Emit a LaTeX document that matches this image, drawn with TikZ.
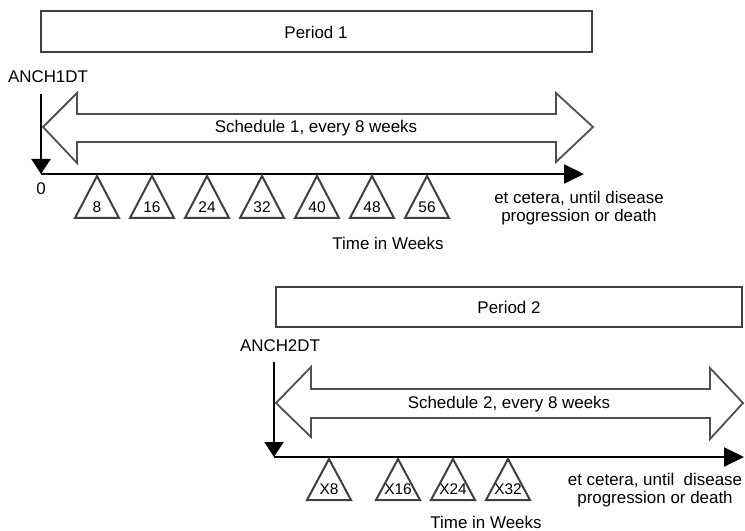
\documentclass[tikz,border=0pt]{standalone}
\usepackage{fontspec}
\setmainfont{Liberation Sans}
\usetikzlibrary{arrows.meta}
\definecolor{boxgray}{HTML}{404040}
\definecolor{arrgray}{HTML}{505050}
\tikzset{
  periodbox/.style={draw=boxgray, line width=2.4bp, fill=white},
  bigarrow/.style={draw=arrgray, line width=1.8bp, line join=miter, fill=white},
  timeline/.style={draw=black, line width=2bp, -{Triangle[length=20bp,width=19bp]}},
  anchorarrow/.style={draw=black, line width=2bp, -{Triangle[length=15bp,width=19bp]}},
  tri/.style={draw=boxgray, line width=2bp, line join=miter},
  lbl/.style={font=\fontsize{17}{18.5}\selectfont, inner sep=0pt},
  trilbl/.style={font=\fontsize{15.5}{17}\selectfont, inner sep=0pt},
}
\begin{document}
\begin{tikzpicture}[x=1bp,y=-1bp]
\useasboundingbox (0,0) rectangle (745,531);

% ---------- Section 1 ----------
\draw[periodbox] (41,11) rectangle (592,52);
\node[lbl] (p1) at (316,32) {Period 1};
\node[lbl] (anch1) at (48,77) {ANCH1DT};

\draw[bigarrow] (43,127) -- (77,93) -- (77,114) -- (556,114) -- (556,93) -- (593,127)
  -- (556,162) -- (556,142) -- (77,142) -- (77,163) -- cycle;
\node[lbl] (s1) at (316,128) {Schedule 1, every 8 weeks};

\coordinate (v1top) at (41,94);
\coordinate (v1bot) at (41,174);
\coordinate (t1end) at (584,174);
\draw[anchorarrow] (v1top) -- (v1bot);
\draw[timeline] (v1bot) -- (t1end);
\node[lbl] (zero) at (41,189) {0};

\foreach \x/\t in {97/8,152/16,207/24,262/32,317/40,372/48,427/56}{
  \draw[tri] (\x,176) -- (\x-22,218) -- (\x+22,218) -- cycle;
  \node[trilbl] (w\t) at (\x,207.5) {\t};
}
\node[lbl, align=center] (etc1) at (579,208) {et cetera, until disease\\progression or death};
\node[lbl] (time1) at (388,243) {Time in Weeks};

% ---------- Section 2 ----------
\draw[periodbox] (276,287) rectangle (742,327);
\node[lbl] (p2) at (509,307) {Period 2};
\node[lbl] (anch2) at (280,346) {ANCH2DT};

\draw[bigarrow] (276,403) -- (311,367) -- (311,389) -- (710,389) -- (710,368) -- (743,403)
  -- (710,439) -- (710,418) -- (311,418) -- (311,437) -- cycle;
\node[lbl] (s2) at (509,404) {Schedule 2, every 8 weeks};

\coordinate (v2top) at (274,362);
\coordinate (v2bot) at (274,457);
\coordinate (t2end) at (744,457);
\draw[anchorarrow] (v2top) -- (v2bot);
\draw[timeline] (v2bot) -- (t2end);

\foreach \x/\t in {329/X8,398/X16,453/X24,508/X32}{
  \draw[tri] (\x,459) -- (\x-22,500) -- (\x+22,500) -- cycle;
  \node[trilbl] (w\t) at (\x,489.5) {\t};
}
\node[lbl, align=center] (etc2) at (655,490) {et cetera, until\ \ disease\\progression or death};
\node[lbl] (time2) at (486,522) {Time in Weeks};
\end{tikzpicture}
\end{document}
